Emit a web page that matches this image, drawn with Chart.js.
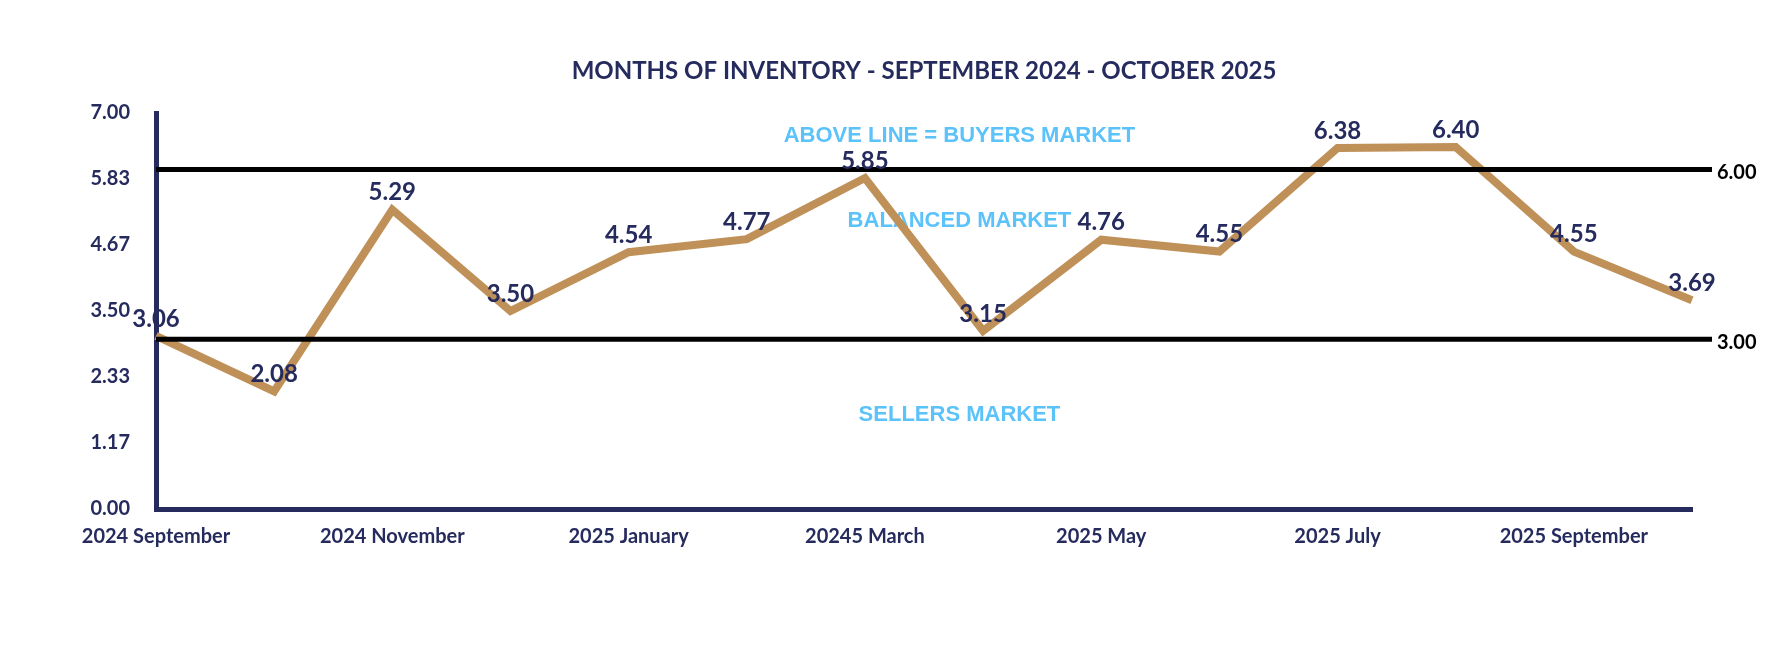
<!DOCTYPE html>
<html>
<head>
<meta charset="utf-8">
<script src="https://cdn.jsdelivr.net/npm/chart.js@4.4.1/dist/chart.umd.min.js"></script>
<style>
  html, body { margin: 0; padding: 0; background: #fff; }
  #wrap { width: 1790px; height: 658px; position: relative; }
</style>
</head>
<body>
<div id="wrap"><canvas id="inventoryChart"></canvas></div>
<script>
// ==================== DATA ====================
const months = [
  '2024 September', '2024 October', '2024 November', '2024 December',
  '2025 January', '2025 February', '20245 March', '2025 April',
  '2025 May', '2025 June', '2025 July', '2025 August',
  '2025 September', '2025 October'
];
const monthsOfInventory = [3.06, 2.08, 5.29, 3.50, 4.54, 4.77, 5.85, 3.15, 4.76, 4.55, 6.38, 6.40, 4.55, 3.69];
const yTicks = [0, 7 / 6, 14 / 6, 3.5, 28 / 6, 35 / 6, 7];
const thresholds = [6, 3];
const marketLabels = ['ABOVE LINE = BUYERS MARKET', 'BALANCED MARKET', 'SELLERS MARKET'];
const marketLabelValues = [6.6, 5.1, 1.66];

const NAVY = '#262b5e';
const TAN = '#bf9159';
const SKY = '#5bc2fa';

// ==================== PLUGINS ====================
const titlePlugin = {
  id: 'centredTitle',
  afterDraw(chart) {
    const { ctx, chartArea } = chart;
    ctx.save();
    ctx.font = 'bold 24px Lato, "Open Sans", sans-serif';
    ctx.fillStyle = NAVY;
    ctx.textAlign = 'center';
    ctx.textBaseline = 'middle';
    ctx.fillText('MONTHS OF INVENTORY - SEPTEMBER 2024 - OCTOBER 2025', (chartArea.left + chartArea.right) / 2, 71);
    ctx.restore();
  }
};

// zone captions sit under the data line
const zoneLabelPlugin = {
  id: 'zoneLabels',
  beforeDatasetsDraw(chart) {
    const { ctx, scales } = chart;
    ctx.save();
    ctx.font = 'bold 22px "Liberation Sans Narrow", "Liberation Sans", Arial, sans-serif';
    ctx.fillStyle = SKY;
    ctx.textAlign = 'center';
    ctx.textBaseline = 'middle';
    const xMid = scales.x.getPixelForValue(6.8);
    marketLabels.forEach((t, i) => {
      ctx.fillText(t, xMid, scales.y.getPixelForValue(marketLabelValues[i]));
    });
    ctx.restore();
  }
};

// black 3.00 / 6.00 lines are drawn over the data line
const thresholdPlugin = {
  id: 'thresholdLines',
  afterDatasetsDraw(chart) {
    const { ctx, chartArea, scales } = chart;
    ctx.save();
    ctx.strokeStyle = '#000';
    ctx.lineWidth = 5;
    thresholds.forEach(v => {
      const y = scales.y.getPixelForValue(v);
      ctx.beginPath();
      ctx.moveTo(chartArea.left, y);
      ctx.lineTo(chartArea.right + 20, y);
      ctx.stroke();
      ctx.font = 'bold 20px Lato, sans-serif';
      ctx.fillStyle = '#000';
      ctx.textAlign = 'left';
      ctx.textBaseline = 'middle';
      ctx.fillText(v.toFixed(2), chartArea.right + 25, y + 3);
    });
    ctx.restore();
  }
};

const valueLabelPlugin = {
  id: 'valueLabels',
  afterDatasetsDraw(chart) {
    const { ctx } = chart;
    const meta = chart.getDatasetMeta(0);
    ctx.save();
    ctx.font = 'bold 24px Lato, sans-serif';
    ctx.fillStyle = NAVY;
    ctx.textAlign = 'center';
    ctx.textBaseline = 'bottom';
    meta.data.forEach((pt, i) => {
      ctx.fillText(monthsOfInventory[i].toFixed(2), pt.x, pt.y - 5);
    });
    ctx.restore();
  }
};

// ==================== CHART ====================
const ctx = document.getElementById('inventoryChart').getContext('2d');
new Chart(ctx, {
  type: 'line',
  data: {
    labels: months,
    datasets: [{
      data: monthsOfInventory,
      borderColor: TAN,
      borderWidth: 8,
      pointRadius: 0,
      tension: 0,
      borderJoinStyle: 'miter'
    }]
  },
  options: {
    responsive: true,
    maintainAspectRatio: false,
    animation: false,
    layout: { padding: { top: 113, right: 98, left: 0, bottom: 0 } },
    plugins: { legend: { display: false }, tooltip: { enabled: false }, title: { display: false } },
    scales: {
      x: {
        offset: false,
        grid: { display: false, drawTicks: false },
        border: { display: true, color: NAVY, width: 5 },
        afterFit: s => { s.height = 149; },
        ticks: {
          autoSkip: false,
          maxRotation: 0,
          padding: 16,
          color: NAVY,
          font: { family: 'Lato, sans-serif', weight: 'bold', size: 20 },
          callback: (v, i) => (i % 2 === 0 ? months[i] : '')
        }
      },
      y: {
        min: 0,
        max: 7,
        grid: { display: false, drawTicks: false },
        border: { display: true, color: NAVY, width: 5 },
        afterFit: s => { s.width = 156; },
        afterBuildTicks: s => { s.ticks = yTicks.map(v => ({ value: v })); },
        ticks: {
          padding: 26,
          color: NAVY,
          font: { family: 'Lato, sans-serif', weight: 'bold', size: 20 },
          callback: v => Number(v).toFixed(2)
        }
      }
    }
  },
  plugins: [titlePlugin, zoneLabelPlugin, thresholdPlugin, valueLabelPlugin]
});
</script>
</body>
</html>
